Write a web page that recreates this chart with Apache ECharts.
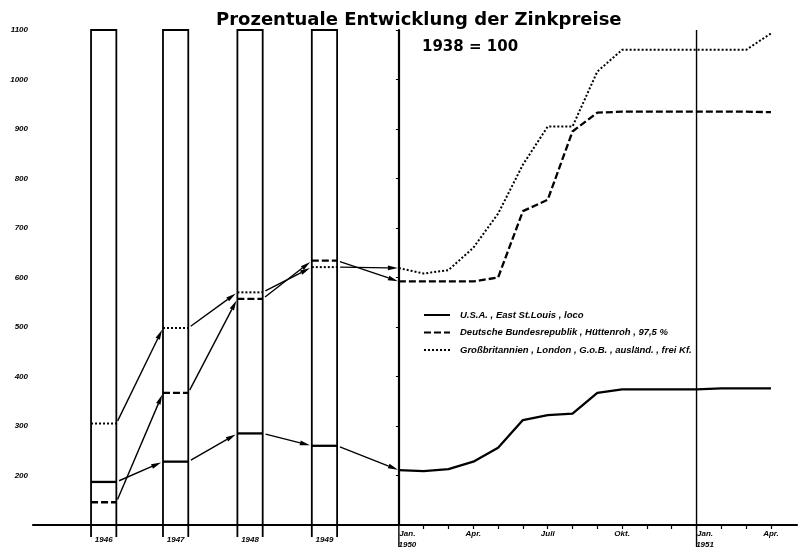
<!DOCTYPE html>
<html><head><meta charset="utf-8">
<script src="https://cdn.jsdelivr.net/npm/echarts@6/dist/echarts.min.js"></script>
<style>html,body{margin:0;padding:0;background:#fff}#c{width:805px;height:550px}</style>
</head><body><div id="c"></div>
<script>
// ---------- data ----------
const titleText = 'Prozentuale Entwicklung der Zinkpreise';
const subTitleText = '1938 = 100';
const seriesNames = [
  'U.S.A. , East St.Louis , loco',
  'Deutsche Bundesrepublik , Hüttenroh , 97,5 %',
  'Großbritannien , London , G.o.B. , ausländ. , frei Kf.'
];
// yearly averages (x = month offset relative to Jan. 1950)
const years = ['1946', '1947', '1948', '1949'];
const yearX = [-11.9, -9, -6, -3];
const usaYear = [187, 228, 285, 260];
const deYear  = [146, 367, 557, 634];
const ukYear  = [305, 498, 570, 621];
// monthly values Jan. 1950 .. Apr. 1951
const monthX   = [0, 1, 2, 3, 4, 5, 6, 7, 8, 9, 10, 11, 12, 13, 14, 15];
const usaMonth = [211, 209, 213, 228, 256, 312, 322, 325, 367, 374, 374, 374, 374, 376, 376, 376];
const deMonth  = [592, 592, 592, 592, 600, 734, 757, 895, 933, 935, 935, 935, 935, 935, 935, 934];
const ukMonth  = [619, 608, 615, 660, 729, 828, 905, 905, 1016, 1060, 1060, 1060, 1060, 1060, 1060, 1093];
// axis ticks
const xTickValues = [-11.9, -9, -6, -3, 0, 3, 6, 9, 12, 15];
const xTickLabels = ['1946', '1947', '1948', '1949', 'Jan.\n1950', 'Apr.', 'Juli', 'Okt.', 'Jan.\n1951', 'Apr.'];
const yTickValues = [200, 300, 400, 500, 600, 700, 800, 900, 1000, 1100];
const yearLineX = [0, 12];

// ---------- layout / style constants ----------
const X_MIN = -14.75, X_MAX = 16.05, Y_MIN = 100, Y_MAX = 1100;
const BAR_HALF = 0.51;
const FONT = 'Liberation Sans';
const styles = [
  { lineDash: null, width: 2.3 },
  { lineDash: [7, 3], width: 2.3 },
  { lineDash: [2, 2], width: 2.0 }
];

function arrowEls(p0, p1, gap0, gap1) {
  const dx = p1[0] - p0[0], dy = p1[1] - p0[1];
  const L = Math.hypot(dx, dy); const ux = dx / L, uy = dy / L;
  const a = [p0[0] + ux * gap0, p0[1] + uy * gap0];
  const b = [p1[0] - ux * gap1, p1[1] - uy * gap1];
  const hl = 10, hw = 2.4;
  const base = [b[0] - ux * hl, b[1] - uy * hl];
  const nx = -uy, ny = ux;
  return [
    { type: 'line', shape: { x1: a[0], y1: a[1], x2: base[0], y2: base[1] }, style: { stroke: '#000', lineWidth: 1.4 } },
    { type: 'polygon', shape: { points: [b, [base[0] + nx * hw, base[1] + ny * hw], [base[0] - nx * hw, base[1] - ny * hw]] }, style: { fill: '#000' } }
  ];
}

function yearSeries(idx, vals, monthVals) {
  const st = styles[idx];
  return {
    type: 'custom', name: 'y' + idx, coordinateSystem: 'cartesian2d', clip: false, z: 4,
    data: yearX.map((x, i) => [x, vals[i], i]),
    renderItem: function (params, api) {
      const x = api.value(0), v = api.value(1), i = api.value(2);
      const l = api.coord([x - BAR_HALF, v]);
      const r = api.coord([x + BAR_HALF, v]);
      const children = [{ type: 'line', shape: { x1: l[0], y1: l[1], x2: r[0], y2: r[1] },
        style: { stroke: '#000', lineWidth: st.width, lineDash: st.lineDash } }];
      let target, g1;
      if (i < yearX.length - 1) { target = api.coord([yearX[i + 1] - BAR_HALF, vals[i + 1]]); g1 = 2; }
      else { target = api.coord([monthX[0], monthVals[0]]); g1 = 1; }
      arrowEls(r, target, 3, g1).forEach(e => children.push(e));
      return { type: 'group', children: children };
    }
  };
}

const labelFont = { fontFamily: FONT, fontSize: 8, fontStyle: 'italic', fontWeight: 'bold', color: '#000', lineHeight: 11 };

const chart = echarts.init(document.getElementById('c'), null, { renderer: 'canvas' });
chart.setOption({
  animation: false,
  backgroundColor: '#fff',
  title: [
    { text: titleText, left: 211, top: 6, textStyle: { fontFamily: 'DejaVu Sans', fontWeight: 'bold', fontSize: 18, color: '#000' } },
    { text: subTitleText, left: 417, top: 35, textStyle: { fontFamily: 'DejaVu Sans', fontWeight: 'bold', fontSize: 15, color: '#000' } }
  ],
  legend: {
    data: seriesNames, orient: 'vertical', left: 418, top: 305, itemWidth: 26, itemHeight: 10, itemGap: 7.5,
    selectedMode: false,
    itemStyle: { color: 'transparent', borderColor: 'transparent', borderWidth: 0 },
    textStyle: { fontFamily: FONT, fontSize: 9.5, fontStyle: 'italic', fontWeight: 'bold', color: '#000', padding: [0, 0, 0, 5] }
  },
  grid: { left: 33, right: 8, top: 30, bottom: 24, containLabel: false },
  xAxis: {
    type: 'value', min: X_MIN, max: X_MAX,
    axisLine: { show: true, onZero: false, lineStyle: { color: '#000', width: 2.2 } },
    splitLine: { show: false },
    axisTick: { show: true, customValues: monthX.slice(1), length: 4, lineStyle: { color: '#000', width: 1.2 } },
    axisLabel: {
      customValues: xTickValues, margin: 3, color: '#000',
      fontFamily: FONT, fontSize: 8, fontStyle: 'italic', fontWeight: 'bold', lineHeight: 11,
      formatter: function (v) {
        const i = xTickValues.findIndex(t => Math.abs(t - v) < 1e-6);
        if (i < 0) return '';
        const t = xTickLabels[i];
        if (t.indexOf('\n') >= 0) return t.split('\n').map(s => '{j|' + s + '}').join('\n');
        if (years.indexOf(t) >= 0) return '{y|' + t + '}';
        return '{n|' + t + '}';
      },
      rich: {
        j: Object.assign({}, labelFont, { padding: [0, 0, 0, 17] }),
        y: Object.assign({}, labelFont, { padding: [12, 0, 0, 0] }),
        n: Object.assign({}, labelFont)
      }
    }
  },
  yAxis: {
    type: 'value', min: Y_MIN, max: Y_MAX, interval: 100,
    axisLine: { show: true, lineStyle: { color: '#000', width: 2.2 } },
    splitLine: { show: false },
    axisTick: { show: true, customValues: yTickValues, length: 3, lineStyle: { color: '#000', width: 1 } },
    axisLabel: { customValues: yTickValues, margin: 5, color: '#000', fontFamily: FONT, fontSize: 8, fontStyle: 'italic', fontWeight: 'bold',
      formatter: function (v) { return String(v); } }
  },
  series: [
    {
      type: 'custom', name: 'bars', coordinateSystem: 'cartesian2d', clip: false, z: 3,
      data: yearX.map(x => [x]),
      renderItem: function (params, api) {
        const x = api.value(0);
        const tl = api.coord([x - BAR_HALF, Y_MAX]);
        const br = api.coord([x + BAR_HALF, Y_MIN]);
        const ext = 12;
        return { type: 'polyline', shape: { points: [[tl[0], br[1] + ext], [tl[0], tl[1]], [br[0], tl[1]], [br[0], br[1] + ext]] },
          style: { stroke: '#000', lineWidth: 1.8, fill: null } };
      }
    },
    {
      type: 'custom', name: 'jan', coordinateSystem: 'cartesian2d', clip: false, z: 3,
      data: yearLineX.map(x => [x]),
      renderItem: function (params, api) {
        const t = api.coord([api.value(0), Y_MAX]);
        const b = api.coord([api.value(0), Y_MIN]);
        return { type: 'line', shape: { x1: t[0], y1: t[1], x2: b[0], y2: b[1] + 22 }, style: { stroke: '#000', lineWidth: 1.4 } };
      }
    },
    yearSeries(0, usaYear, usaMonth),
    yearSeries(1, deYear, deMonth),
    yearSeries(2, ukYear, ukMonth),
    { type: 'line', name: seriesNames[0], data: monthX.map((x, i) => [x, usaMonth[i]]), symbol: 'none', z: 5,
      lineStyle: { color: '#000', width: styles[0].width, type: 'solid' }, itemStyle: { color: '#000' } },
    { type: 'line', name: seriesNames[1], data: monthX.map((x, i) => [x, deMonth[i]]), symbol: 'none', z: 5,
      lineStyle: { color: '#000', width: styles[1].width, type: styles[1].lineDash }, itemStyle: { color: '#000' } },
    { type: 'line', name: seriesNames[2], data: monthX.map((x, i) => [x, ukMonth[i]]), symbol: 'none', z: 5,
      lineStyle: { color: '#000', width: styles[2].width, type: styles[2].lineDash }, itemStyle: { color: '#000' } }
  ]
});
</script>
</body></html>
